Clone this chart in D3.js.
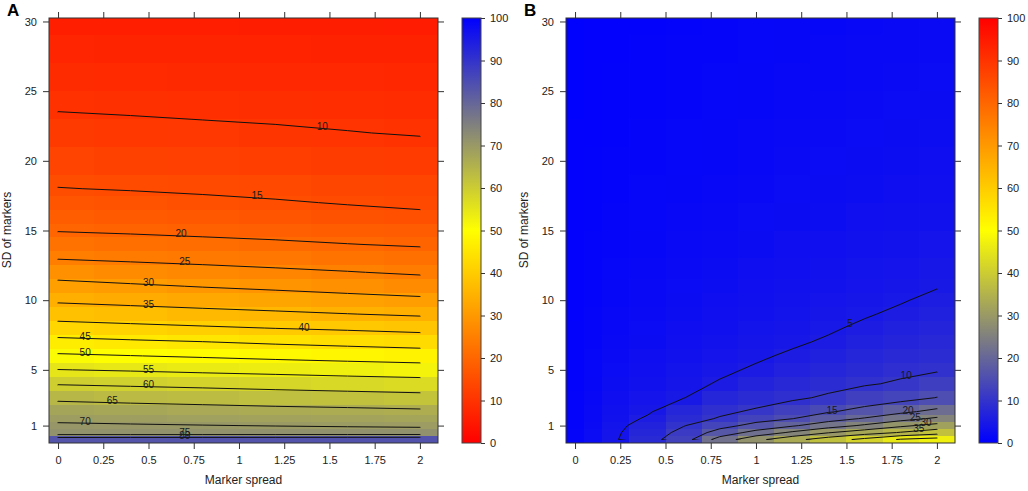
<!DOCTYPE html>
<html>
<head>
<meta charset="utf-8">
<script src="https://cdn.jsdelivr.net/npm/d3@7"></script>
<style>
body { margin: 0; background: #fff; }
svg { font-family: "Liberation Sans", Arial, Helvetica, sans-serif; }
.tick line { stroke: #333; }
.tick text { fill: #222; font-size: 11px; }
</style>
</head>
<body>
<svg id="chart" width="1028" height="491"></svg>
<script>
// shared axis ticks
var xTicks = [0, 0.25, 0.5, 0.75, 1, 1.25, 1.5, 1.75, 2];
var yTicks = [1, 5, 10, 15, 20, 25, 30];
var barTicks = [0, 10, 20, 30, 40, 50, 60, 70, 80, 90, 100];

// panel A grid (marker spread x SD of markers)
var xsA = [0, 0.4, 0.8, 1.2, 1.6, 2];
var ysA = [0, 0.5, 1, 1.5, 2, 3, 4, 5, 6, 7, 8, 9, 10, 11, 12, 13, 14, 15, 16, 17, 18, 20, 22, 24, 26, 28, 30];
var valuesA = [
  [83.5, 83.6, 83.7, 83.8, 83.9, 84.0],
  [71.4, 71.4, 71.4, 71.5, 71.5, 71.5],
  [70.5, 70.3, 70.1, 69.9, 69.7, 69.5],
  [69.3, 69.0, 68.7, 68.3, 68.0, 67.7],
  [67.6, 67.2, 66.9, 66.5, 66.2, 65.8],
  [64.1, 63.6, 63.1, 62.6, 62.1, 61.6],
  [59.7, 59.2, 58.7, 58.1, 57.6, 57.1],
  [55.1, 54.6, 54.0, 53.5, 52.9, 52.4],
  [50.7, 50.1, 49.5, 48.8, 48.2, 47.6],
  [46.4, 45.7, 45.1, 44.3, 43.6, 42.9],
  [42.0, 41.3, 40.6, 39.9, 39.3, 38.6],
  [37.9, 37.2, 36.5, 35.8, 35.1, 34.4],
  [34.3, 33.6, 32.9, 32.3, 31.6, 30.9],
  [31.4, 30.6, 29.8, 29.1, 28.3, 27.5],
  [28.2, 27.4, 26.7, 25.9, 25.2, 24.4],
  [24.8, 24.2, 23.6, 23.1, 22.5, 21.9],
  [22.3, 21.8, 21.2, 20.7, 20.1, 19.6],
  [19.8, 19.4, 19.0, 18.6, 18.2, 17.8],
  [18.2, 17.7, 17.2, 16.6, 16.1, 15.6],
  [16.6, 16.2, 15.7, 15.3, 14.8, 14.4],
  [15.1, 14.8, 14.5, 14.1, 13.8, 13.5],
  [13.1, 12.8, 12.5, 12.1, 11.8, 11.5],
  [11.3, 11.0, 10.7, 10.4, 10.1, 9.8],
  [9.6, 9.4, 9.2, 9.1, 8.9, 8.7],
  [8.4, 8.2, 8.1, 7.9, 7.8, 7.6],
  [7.2, 7.1, 7.0, 6.8, 6.7, 6.6],
  [6.0, 5.9, 5.8, 5.7, 5.6, 5.5]
];
var levelsA = [10, 15, 20, 25, 30, 35, 40, 45, 50, 55, 60, 65, 70, 75, 80];
var labelsA = [
  {level: 10, x: 1.46}, {level: 15, x: 1.1}, {level: 20, x: 0.68},
  {level: 25, x: 0.7}, {level: 30, x: 0.5}, {level: 35, x: 0.5},
  {level: 40, x: 1.36}, {level: 45, x: 0.15}, {level: 50, x: 0.15},
  {level: 55, x: 0.5}, {level: 60, x: 0.5}, {level: 65, x: 0.3},
  {level: 70, x: 0.15}, {level: 75, x: 0.7}, {level: 80, x: 0.7}
];

// panel B grid
var xsB = [0, 0.1, 0.2, 0.4, 0.6, 0.8, 1, 1.2, 1.4, 1.6, 1.8, 2];
var ysB = [0, 0.5, 1, 1.5, 2, 3, 4, 5, 6, 7, 8, 9, 10, 11, 12, 14, 16, 18, 20, 22, 24, 26, 28, 30];
var valuesB = [
  [1.0, 2.2, 4.2, 8.2, 12.8, 22.1, 28.6, 33.4, 37.6, 41.3, 45.5, 47.0],
  [0.9, 2.1, 4.0, 7.5, 11.3, 17.0, 21.7, 25.8, 29.7, 32.7, 35.3, 37.9],
  [0.85, 1.95, 3.7, 6.6, 9.8, 13.3, 16.5, 19.4, 22.7, 25.7, 29.0, 31.6],
  [0.8, 1.8, 3.4, 5.4, 8.5, 10.3, 13.2, 14.9, 18.0, 20.4, 23.2, 25.8],
  [0.75, 1.7, 3.2, 4.6, 7.3, 9.3, 10.5, 12.6, 14.6, 16.5, 19.0, 21.3],
  [0.7, 1.5, 2.8, 3.9, 4.9, 7.2, 8.5, 9.3, 10.6, 12.4, 13.4, 15.1],
  [0.65, 1.35, 2.5, 3.4, 4.2, 5.25, 6.9, 7.8, 8.7, 9.6, 10.5, 12.2],
  [0.6, 1.2, 2.2, 3.0, 3.7, 4.5, 5.35, 6.5, 7.2, 8.3, 9.1, 9.6],
  [0.55, 1.1, 2.0, 2.7, 3.3, 4.0, 4.6, 5.4, 6.2, 7.2, 8.0, 8.7],
  [0.5, 1.0, 1.8, 2.4, 3.0, 3.6, 4.1, 4.6, 5.35, 6.3, 7.1, 7.9],
  [0.5, 0.95, 1.6, 2.2, 2.7, 3.2, 3.7, 4.15, 4.65, 5.5, 6.25, 7.1],
  [0.45, 0.9, 1.5, 2.0, 2.5, 2.95, 3.4, 3.8, 4.25, 4.75, 5.5, 6.35],
  [0.45, 0.85, 1.4, 1.85, 2.3, 2.7, 3.1, 3.5, 3.9, 4.3, 4.8, 5.6],
  [0.4, 0.8, 1.3, 1.7, 2.15, 2.5, 2.9, 3.25, 3.6, 3.95, 4.35, 4.85],
  [0.4, 0.75, 1.2, 1.6, 2.0, 2.35, 2.7, 3.0, 3.35, 3.7, 4.0, 4.5],
  [0.35, 0.7, 1.0, 1.4, 1.75, 2.05, 2.35, 2.65, 2.95, 3.25, 3.5, 3.9],
  [0.35, 0.6, 0.9, 1.2, 1.55, 1.8, 2.1, 2.35, 2.6, 2.85, 3.1, 3.4],
  [0.3, 0.55, 0.8, 1.1, 1.4, 1.6, 1.85, 2.1, 2.35, 2.55, 2.75, 3.0],
  [0.3, 0.5, 0.7, 1.0, 1.25, 1.45, 1.65, 1.9, 2.1, 2.3, 2.5, 2.7],
  [0.3, 0.45, 0.6, 0.9, 1.15, 1.3, 1.5, 1.7, 1.9, 2.1, 2.3, 2.5],
  [0.25, 0.45, 0.55, 0.8, 1.05, 1.2, 1.4, 1.6, 1.8, 1.95, 2.1, 2.3],
  [0.25, 0.4, 0.5, 0.75, 0.95, 1.1, 1.3, 1.5, 1.65, 1.8, 1.95, 2.15],
  [0.25, 0.4, 0.45, 0.7, 0.9, 1.0, 1.2, 1.4, 1.55, 1.7, 1.85, 2.0],
  [0.2, 0.35, 0.4, 0.6, 0.8, 0.95, 1.1, 1.3, 1.45, 1.6, 1.75, 1.9]
];
var levelsB = [5, 10, 15, 20, 25, 30, 35, 40, 45];
var labelsB = [
  {level: 5, x: 1.52}, {level: 10, x: 1.83}, {level: 15, x: 1.42},
  {level: 20, x: 1.84}, {level: 25, x: 1.88}, {level: 30, x: 1.94},
  {level: 35, x: 1.9}
];

var svg = d3.select("#chart");

function cellEdges(vals, lo, hi) {
  return vals.map(function(v, i) {
    var a = i === 0 ? lo : (vals[i - 1] + v) / 2;
    var b = i === vals.length - 1 ? hi : (v + vals[i + 1]) / 2;
    return [a, b];
  });
}

function drawPanel(p) {
  var g = svg.append("g");
  var x = d3.scaleLinear().domain([-0.05, 2.1]).range([p.left, p.left + 389]);
  var y = d3.scaleLinear().domain([-0.25, 30.25]).range([443, 18]);
  var color = d3.scaleLinear().domain([0, 50, 100]).range(p.colors);

  var ex = cellEdges(p.xs, x.domain()[0], x.domain()[1]);
  var ey = cellEdges(p.ys, y.domain()[0], y.domain()[1]);

  var cells = [];
  p.values.forEach(function(row, j) {
    row.forEach(function(v, i) { cells.push({i: i, j: j, v: v}); });
  });

  g.append("g").selectAll("rect")
    .data(cells)
    .enter().append("rect")
    .attr("x", function(d) { return x(ex[d.i][0]); })
    .attr("y", function(d) { return y(ey[d.j][1]); })
    .attr("width", function(d) { return x(ex[d.i][1]) - x(ex[d.i][0]); })
    .attr("height", function(d) { return y(ey[d.j][0]) - y(ey[d.j][1]); })
    .attr("fill", function(d) { return color(d.v); })
    .attr("shape-rendering", "crispEdges");

  // contour lines, grid index space -> data -> pixels
  var n = p.xs.length, m = p.ys.length;
  var flat = [];
  p.values.forEach(function(row) { row.forEach(function(v) { flat.push(v); }); });
  var ix = d3.scaleLinear().domain(p.xs.map(function(d, i) { return i + 0.5; })).range(p.xs);
  var iy = d3.scaleLinear().domain(p.ys.map(function(d, i) { return i + 0.5; })).range(p.ys);
  var proj = d3.geoTransform({point: function(a, b) { this.stream.point(x(ix(a)), y(iy(b))); }});
  var path = d3.geoPath(proj);
  var conts = d3.contours().size([n, m]).thresholds(p.levels)(flat);

  var clipId = "clip" + p.name;
  var x0 = x(p.xs[0]), x1 = x(p.xs[n - 1]), y0 = y(p.ys[m - 1]), y1 = y(p.ys[0]);
  g.append("clipPath").attr("id", clipId)
    .append("rect").attr("x", x0 - 0.5).attr("y", y0 - 0.5)
    .attr("width", x1 - x0 + 1).attr("height", y1 - y0 + 1);

  g.append("g").attr("clip-path", "url(#" + clipId + ")")
    .selectAll("path")
    .data(conts)
    .enter().append("path")
    .attr("d", path)
    .attr("fill", "none")
    .attr("stroke", "#111")
    .attr("stroke-width", 1);

  // label each line where it crosses the requested x
  function yAt(level, lx) {
    var c = conts.filter(function(d) { return d.value === level; })[0];
    var found = null;
    c.coordinates.forEach(function(poly) {
      poly.forEach(function(ring) {
        for (var k = 1; k < ring.length && found === null; k++) {
          var ax = ix(ring[k - 1][0]), bx = ix(ring[k][0]);
          var ay = iy(ring[k - 1][1]), by = iy(ring[k][1]);
          if (ay < p.ys[0] || by < p.ys[0] || ay > p.ys[m - 1] || by > p.ys[m - 1]) continue;
          if (ax < p.xs[0] || bx < p.xs[0] || ax > p.xs[n - 1] || bx > p.xs[n - 1]) continue;
          if ((ax - lx) * (bx - lx) <= 0 && ax !== bx) {
            found = ay + (by - ay) * (lx - ax) / (bx - ax);
          }
        }
      });
    });
    return found;
  }

  g.append("g").selectAll("text")
    .data(p.labels)
    .enter().append("text")
    .attr("x", function(d) { return x(d.x); })
    .attr("y", function(d) { return y(yAt(d.level, d.x)) - 2; })
    .attr("text-anchor", "middle")
    .attr("dominant-baseline", "central")
    .attr("font-size", 10)
    .attr("fill", "#1a1a1a")
    .text(function(d) { return d.level; });

  // axes
  g.append("g").attr("transform", "translate(0,443)")
    .call(d3.axisBottom(x).tickValues(xTicks).tickSize(6).tickPadding(7).tickFormat(String))
    .call(function(s) { s.select(".domain").remove(); });
  g.append("g").attr("transform", "translate(0,18)")
    .call(d3.axisTop(x).tickValues(xTicks).tickSize(6).tickFormat(""))
    .call(function(s) { s.select(".domain").remove(); });
  g.append("g").attr("transform", "translate(" + p.left + ",0)")
    .call(d3.axisLeft(y).tickValues(yTicks).tickSize(6).tickPadding(6).tickFormat(String))
    .call(function(s) { s.select(".domain").remove(); });
  g.append("g").attr("transform", "translate(" + (p.left + 389) + ",0)")
    .call(d3.axisRight(y).tickValues(yTicks).tickSize(6).tickFormat(""))
    .call(function(s) { s.select(".domain").remove(); });

  g.append("rect")
    .attr("x", p.left).attr("y", 18).attr("width", 389).attr("height", 425)
    .attr("fill", "none").attr("stroke", "#333").attr("stroke-width", 1);

  g.append("text")
    .attr("x", p.left + 389 / 2).attr("y", 484)
    .attr("text-anchor", "middle").attr("font-size", 12).attr("fill", "#222")
    .text("Marker spread");
  g.append("text")
    .attr("transform", "translate(" + (p.left - 38) + ",230) rotate(-90)")
    .attr("text-anchor", "middle").attr("font-size", 12).attr("fill", "#222")
    .text("SD of markers");
  g.append("text")
    .attr("x", p.left - 42).attr("y", 16)
    .attr("font-size", 17).attr("font-weight", "bold").attr("fill", "#000")
    .text(p.name);

  // colour key
  var cy = d3.scaleLinear().domain([0, 100]).range([443, 18]);
  var gradId = "grad" + p.name;
  var grad = svg.append("defs").append("linearGradient").attr("id", gradId)
    .attr("x1", 0).attr("y1", 1).attr("x2", 0).attr("y2", 0);
  grad.selectAll("stop")
    .data(color.domain())
    .enter().append("stop")
    .attr("offset", function(d) { return d / 100; })
    .attr("stop-color", function(d) { return color(d); });
  g.append("rect")
    .attr("x", p.barX).attr("y", cy(100)).attr("width", 19).attr("height", cy(0) - cy(100))
    .attr("fill", "url(#" + gradId + ")").attr("stroke", "#444").attr("stroke-width", 1);
  g.append("g").attr("transform", "translate(" + (p.barX + 19) + ",0)")
    .call(d3.axisRight(cy).tickValues(barTicks).tickSize(4).tickPadding(5).tickFormat(String))
    .call(function(s) { s.select(".domain").remove(); });
}

drawPanel({name: "A", left: 49, barX: 462, xs: xsA, ys: ysA, values: valuesA,
  levels: levelsA, labels: labelsA, colors: ["#ff0000", "#ffff00", "#0000ff"]});
drawPanel({name: "B", left: 566, barX: 979, xs: xsB, ys: ysB, values: valuesB,
  levels: levelsB, labels: labelsB, colors: ["#0000ff", "#ffff00", "#ff0000"]});
</script>
</body>
</html>
